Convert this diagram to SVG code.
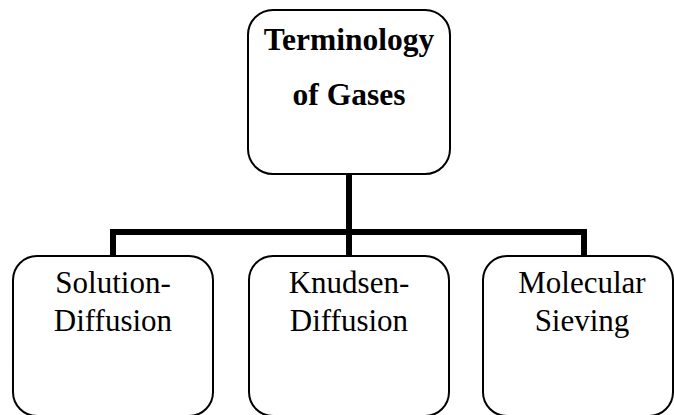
<svg xmlns="http://www.w3.org/2000/svg" width="674" height="415" viewBox="0 0 674 415">
<style>
.box{fill:#fff;stroke:#000;stroke-width:2}
.c{fill:none;stroke:#000;stroke-width:6}
</style>
<rect width="674" height="415" fill="#fff"/>
<g id="connectors">
<path class="c" d="M349 174 V232 M113 256 V232 H584 V256 M349 232 V256"/>
</g>
<g id="root">
<rect class="box" x="248" y="10" width="202" height="164" rx="25"/>
<text x="349" y="50" font-family="Liberation Serif" font-size="31.5" font-weight="bold" text-anchor="middle">Terminology</text>
<text x="349" y="105" font-family="Liberation Serif" font-size="31.5" font-weight="bold" text-anchor="middle">of Gases</text>
</g>
<g id="solution">
<rect class="box" x="13" y="256" width="200" height="160" rx="24"/>
<text x="113" y="293" font-family="Liberation Serif" font-size="31" text-anchor="middle">Solution-</text>
<text x="113" y="331" font-family="Liberation Serif" font-size="31" text-anchor="middle">Diffusion</text>
</g>
<g id="knudsen">
<rect class="box" x="249" y="256" width="200" height="160" rx="24"/>
<text x="349" y="293" font-family="Liberation Serif" font-size="31" text-anchor="middle">Knudsen-</text>
<text x="349" y="331" font-family="Liberation Serif" font-size="31" text-anchor="middle">Diffusion</text>
</g>
<g id="molecular">
<rect class="box" x="483" y="256" width="190" height="160" rx="24"/>
<text x="582" y="293" font-family="Liberation Serif" font-size="31" text-anchor="middle">Molecular</text>
<text x="582" y="331" font-family="Liberation Serif" font-size="31" text-anchor="middle">Sieving</text>
</g>
</svg>
